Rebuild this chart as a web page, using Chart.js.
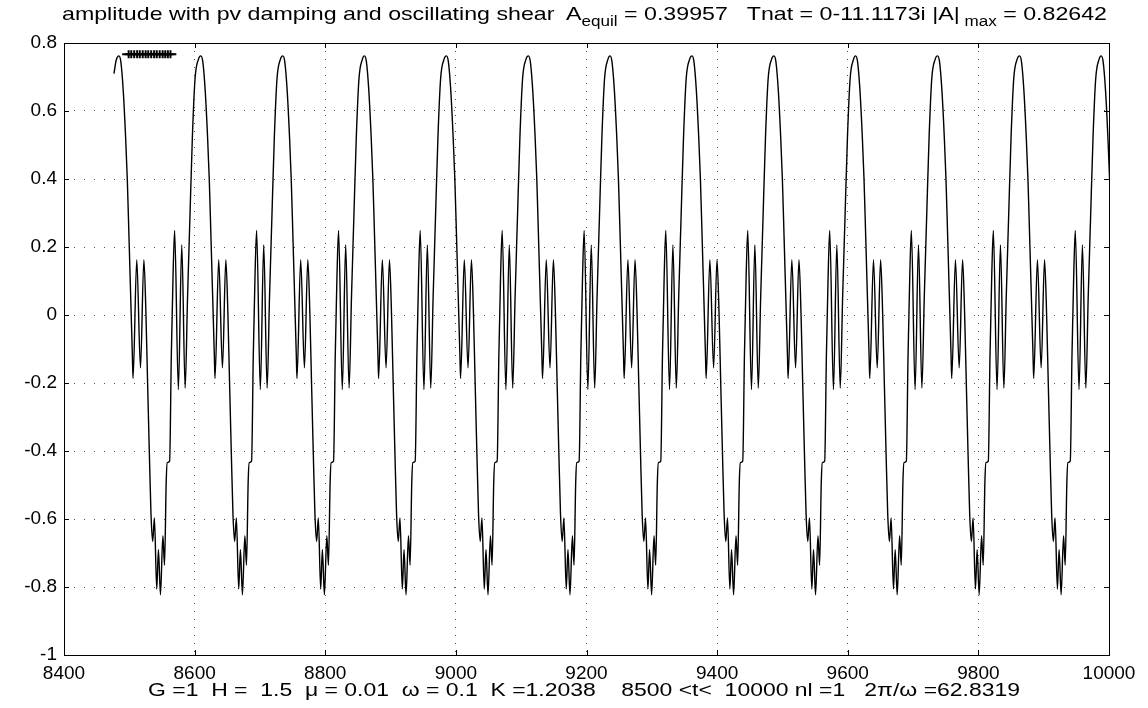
<!DOCTYPE html>
<html>
<head>
<meta charset="utf-8">
<title>amplitude with pv damping</title>
<script src="https://cdn.jsdelivr.net/npm/chart.js@4.4.0/dist/chart.umd.min.js"></script>
<style>
  body { margin: 0; background: #fff; }
  #wrap { position: relative; width: 1148px; height: 708px; font-family: "Liberation Sans", Arial, sans-serif; color: #000; overflow: hidden; }
  #wrap canvas { position: absolute; left: 0; top: 0; }
  .lbl { position: absolute; white-space: pre; font-size: 19px; line-height: 20px; transform-origin: 0 0; }
  #title { top: 4px; left: 62px; }
  #xlabel { top: 680px; left: 148px; }
  sub { font-size: 14px; vertical-align: -6px; line-height: 0; }
</style>
</head>
<body>
<div id="wrap">
  <canvas id="ampChart" width="1148" height="708"></canvas>
  <span id="title" class="lbl">amplitude with pv damping and oscillating shear  A<sub>equil</sub> = 0.39957   Tnat = 0-11.1173i |A|<sub> max</sub> = 0.82642</span>
  <span id="xlabel" class="lbl">G =1  H =  1.5  μ = 0.01  ω = 0.1  K =1.2038    8500 &lt;t&lt;  10000 nl =1   2π/ω =62.8319</span>
</div>
<script>
// times of the big peaks
const peakTimes = [8484, 8609.5, 8735, 8860, 8985.5, 9111, 9236, 9361.5, 9487, 9612, 9737.5, 9863, 9988];

// one cycle as seen after each peak: time since the peak and amplitude
const cycleOffsets = [0, 3, 6.7, 10.4, 12.9, 15.5, 18.1, 20.7, 21.7, 27.4, 33.1, 38.3, 41.5, 44.0, 46.6, 49.2,
    51.8, 54.4, 58.0, 60.6, 63.7, 67.4, 69.9, 72.5, 74.1, 77.7, 80.3, 82.9, 85.4, 91.1, 96.3, 101.5,
    105.2, 108.8, 112.5, 116.6, 121.8];
const cycleValues = [0.762, 0.745, 0.66, 0.52, 0.40, 0.23, 0.055, -0.12, -0.187, 0.163, -0.155, 0.163, 0.0, -0.2, -0.4, -0.585,
    -0.666, -0.597, -0.806, -0.69, -0.823, -0.649, -0.736, -0.49, -0.434, -0.43, -0.12, 0.11, 0.249, -0.219, 0.206, -0.215,
    0.055, 0.287, 0.52, 0.694, 0.752];

// start of the trace, before the first peak
const leadTimes = [8476.5, 8480];
const leadValues = [0.71, 0.75];
const endTime = 10000;

// the row of + marks near the top left
const markTimes = [8499, 8503, 8507.5, 8512, 8516, 8520.5, 8525, 8529, 8533.5, 8538, 8542, 8546.5, 8551, 8555, 8559, 8563];
const markLineEnds = [8489, 8572];
const markLevel = 0.767;

const xTicks = [8400, 8600, 8800, 9000, 9200, 9400, 9600, 9800, 10000];
const yTicks = [-1, -0.8, -0.6, -0.4, -0.2, 0, 0.2, 0.4, 0.6, 0.8];

const ampData = [];
leadTimes.forEach((t, i) => ampData.push({ x: t, y: leadValues[i] }));
peakTimes.forEach(p => {
    cycleOffsets.forEach((o, i) => {
        // keep one point past the right edge, the chart area clips it
        if (p + o < endTime + 12) ampData.push({ x: p + o, y: cycleValues[i] });
    });
});

const markData = [{ x: markLineEnds[0], y: markLevel }]
    .concat(markTimes.map(t => ({ x: t, y: markLevel })))
    .concat([{ x: markLineEnds[1], y: markLevel }]);
const markRadius = markData.map((d, i) => (i === 0 || i === markData.length - 1) ? 0 : 4);

// the labels in the picture are drawn wide, stretch them to the same span
function fitWidth(id, w) {
    const el = document.getElementById(id);
    el.style.transform = 'scaleX(' + (w / el.getBoundingClientRect().width) + ')';
}
fitWidth('title', 1045);
fitWidth('xlabel', 872);

Chart.defaults.font.family = '"Liberation Sans", Arial, sans-serif';
Chart.defaults.color = '#000';

// box round the plot with short ticks pointing inwards
const framePlugin = {
    id: 'frame',
    afterDraw(chart) {
        const { ctx, chartArea: a, scales } = chart;
        ctx.save();
        ctx.strokeStyle = '#000';
        ctx.lineWidth = 1;
        ctx.strokeRect(a.left + 0.5, a.top + 0.5, a.right - a.left, a.bottom - a.top);
        ctx.beginPath();
        xTicks.forEach(v => {
            const px = Math.round(scales.x.getPixelForValue(v)) + 0.5;
            ctx.moveTo(px, a.bottom); ctx.lineTo(px, a.bottom - 5);
            ctx.moveTo(px, a.top); ctx.lineTo(px, a.top + 5);
        });
        yTicks.forEach(v => {
            const py = Math.round(scales.y.getPixelForValue(v)) + 0.5;
            ctx.moveTo(a.left, py); ctx.lineTo(a.left + 5, py);
            ctx.moveTo(a.right, py); ctx.lineTo(a.right - 5, py);
        });
        ctx.stroke();
        ctx.restore();
    }
};

new Chart(document.getElementById('ampChart').getContext('2d'), {
    type: 'line',
    data: {
        datasets: [{
            data: ampData,
            borderColor: '#000',
            borderWidth: 1.4,
            pointRadius: 0,
            cubicInterpolationMode: 'monotone',
            fill: false,
            clip: 0
        }, {
            data: markData,
            borderColor: '#000',
            borderWidth: 2,
            pointRadius: markRadius,
            pointStyle: 'cross',
            pointBorderWidth: 2,
            tension: 0,
            fill: false
        }]
    },
    options: {
        responsive: false,
        devicePixelRatio: 1,
        animation: false,
        layout: { padding: { top: 43, right: 39, left: 0, bottom: 0 } },
        plugins: { legend: { display: false }, tooltip: { enabled: false } },
        scales: {
            x: {
                type: 'linear',
                min: 8400,
                max: 10000,
                afterBuildTicks: s => { s.ticks = xTicks.map(v => ({ value: v })); },
                afterFit: s => { s.height = 53; },
                ticks: { callback: v => String(v), font: { size: 19 }, color: '#000', padding: 7, maxRotation: 0, autoSkip: false },
                grid: { color: '#555', lineWidth: 1, drawTicks: false },
                border: { display: false, dash: [1, 7] }
            },
            y: {
                min: -1,
                max: 0.8,
                afterBuildTicks: s => { s.ticks = yTicks.map(v => ({ value: v })); },
                afterFit: s => { s.width = 64; },
                ticks: { callback: v => String(Math.round(v * 10) / 10), font: { size: 19 }, color: '#000', padding: 7, autoSkip: false },
                grid: { color: '#555', lineWidth: 1, drawTicks: false },
                border: { display: false, dash: [1, 9] }
            }
        }
    },
    plugins: [framePlugin]
});
</script>
</body>
</html>
